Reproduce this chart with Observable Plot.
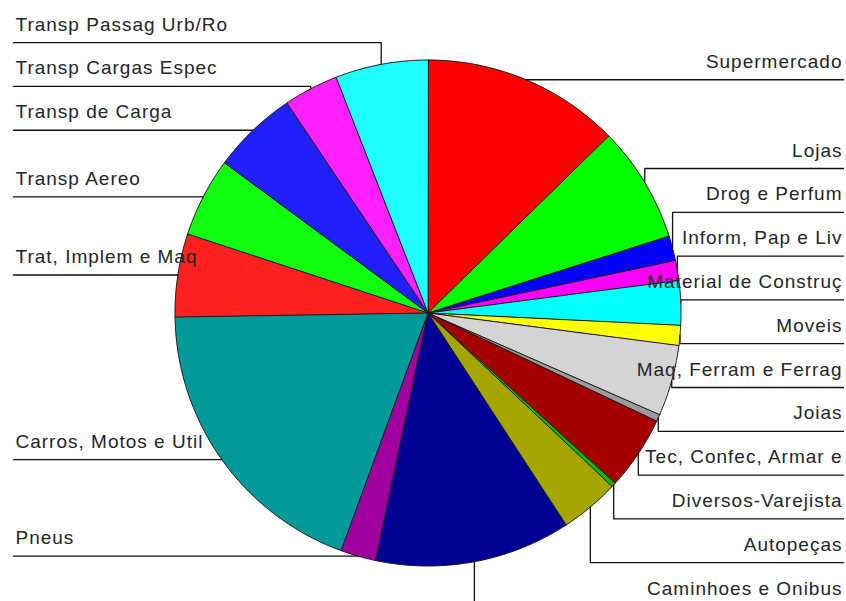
<!DOCTYPE html>
<html><head><meta charset="utf-8">
<script src="https://cdn.jsdelivr.net/npm/d3@7"></script>
<script src="https://cdn.jsdelivr.net/npm/@observablehq/plot@0.6"></script>
<style>body{margin:0;background:#fff} #chart{width:846px;height:601px}</style>
</head><body><div id="chart"></div>
<script>
const categories = ["Supermercado","Lojas","Drog e Perfum","Inform, Pap e Liv","Material de Construç","Moveis","Maq, Ferram e Ferrag","Joias","Tec, Confec, Armar e","Diversos-Varejista","Autopeças","Caminhoes e Onibus","Pneus","Carros, Motos e Util","Trat, Implem e Maq","Transp Aereo","Transp de Carga","Transp Cargas Espec","Transp Passag Urb/Ro"];
const shares = [12.67,7.42,1.58,1.28,2.83,1.28,4.53,0.44,4.72,0.28,3.78,12.53,2.25,19.17,5.31,5.06,5.47,3.50,5.92];
const palette = ["#ff0000","#00ff00","#0000ff","#ff00ff","#00ffff","#ffff00","#d4d4d4","#9c9c9c","#a50000","#00c000","#a5a500","#000096","#a000a0","#009a9a","#ff2020","#10ff10","#2020ff","#ff20ff","#20ffff"];

const W = 846, H = 601, CX = 427.5, CY = 312.5, R = 253;
const total = d3.sum(shares);
let acc = 0;
const slices = categories.map((name, i) => {
  const a0 = acc / total * 2 * Math.PI; acc += shares[i];
  const a1 = acc / total * 2 * Math.PI;
  return {name, color: palette[i], a0, a1, mid: (a0 + a1) / 2};
});
const polyPts = [];
for (const s of slices) {
  polyPts.push({name: s.name, color: s.color, x: 0, y: 0});
  const n = Math.max(2, Math.ceil((s.a1 - s.a0) / (Math.PI / 360)));
  for (let k = 0; k <= n; k++) {
    const a = s.a0 + (s.a1 - s.a0) * k / n;
    polyPts.push({name: s.name, color: s.color, x: Math.sin(a), y: Math.cos(a)});
  }
}
// label layout (pixels), converted to data units
const toX = px => (px - CX) / R, toY = py => (CY - py) / R;
const GAP = 43.8, BOTTOM = 606, TOP = -5;
for (const s of slices) { s.ax = CX + R * Math.sin(s.mid); s.ay = CY - R * Math.cos(s.mid); }
const right = slices.filter(s => s.mid < Math.PI), left = slices.filter(s => s.mid >= Math.PI);
let prev = -Infinity;
for (const s of right) { s.ly = Math.max(s.ay, prev + GAP); prev = s.ly; }
let next = BOTTOM + GAP;
for (let i = right.length - 1; i >= 0; i--) { const s = right[i]; s.ly = Math.min(s.ly, next - GAP); next = s.ly; }
prev = Infinity;
for (const s of left) { s.ly = Math.min(s.ay, prev - GAP); prev = s.ly; }
next = TOP - GAP;
for (let i = left.length - 1; i >= 0; i--) { const s = left[i]; s.ly = Math.max(s.ly, next + GAP); next = s.ly; }

const leaderPts = [];
for (const s of right) {
  leaderPts.push({name: s.name, x: toX(s.ax), y: toY(s.ay)}, {name: s.name, x: toX(s.ax), y: toY(s.ly)}, {name: s.name, x: toX(843), y: toY(s.ly)});
}
for (const s of left) {
  leaderPts.push({name: s.name, x: toX(s.ax), y: toY(s.ay)}, {name: s.name, x: toX(s.ax), y: toY(s.ly)}, {name: s.name, x: toX(13), y: toY(s.ly)});
}
const rightLabels = right.map(s => ({name: s.name, x: toX(842), y: toY(s.ly - 12)}));
const leftLabels = left.map(s => ({name: s.name, x: toX(15), y: toY(s.ly - 12)}));

const chart = Plot.plot({
  width: W, height: H, margin: 0,
  x: {domain: [-1, 1], range: [CX - R, CX + R]},
  y: {domain: [-1, 1], range: [CY + R, CY - R]},
  axis: null,
  color: {type: "identity"},
  style: {fontFamily: "'Liberation Sans', Arial, sans-serif", letterSpacing: "1px", background: "#fff", overflow: "hidden"},
  marks: [
    Plot.line(polyPts, {x: "x", y: "y", z: "name", fill: "color", stroke: "#1a1a1a", strokeWidth: 1, curve: "linear-closed"}),
    Plot.line(leaderPts, {x: "x", y: "y", z: "name", stroke: "#111", strokeWidth: 1.3}),
    Plot.text(rightLabels, {x: "x", y: "y", text: "name", textAnchor: "end", lineAnchor: "bottom", fontSize: 19, fill: "#262626"}),
    Plot.text(leftLabels, {x: "x", y: "y", text: "name", textAnchor: "start", lineAnchor: "bottom", fontSize: 19, fill: "#262626"})
  ]
});
document.getElementById("chart").appendChild(chart);
</script>
</body></html>
